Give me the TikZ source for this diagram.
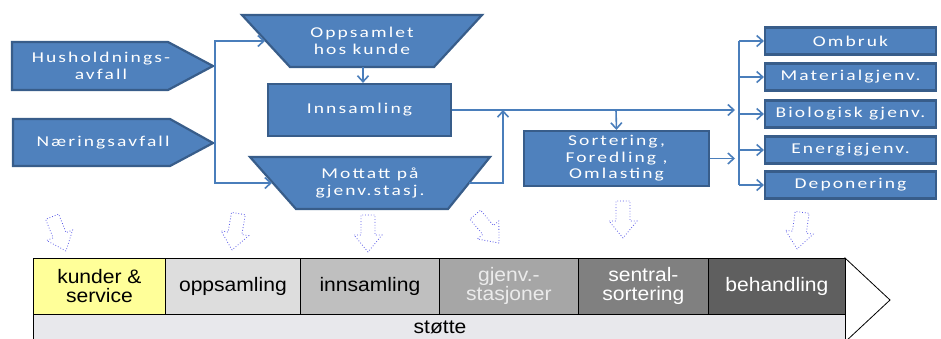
\documentclass[tikz,border=0pt]{standalone}
\usepackage{fontspec}
\usetikzlibrary{arrows.meta}
\newfontfamily\topfont[FakeStretch=1.3,LetterSpace=14]{Carlito}
\newfontfamily\barfont[FakeStretch=1.08]{Liberation Sans}
\definecolor{bfill}{HTML}{4F81BD}
\definecolor{bdraw}{HTML}{385D8A}
\definecolor{lineblue}{HTML}{4A7EBB}
\definecolor{dotblue}{HTML}{5A5AE8}
\definecolor{segA}{HTML}{FFFF99}
\definecolor{segB}{HTML}{DDDDDD}
\definecolor{segC}{HTML}{BFBFBF}
\definecolor{segD}{HTML}{A6A6A6}
\definecolor{segE}{HTML}{808080}
\definecolor{segF}{HTML}{5F5F5F}
\definecolor{segG}{HTML}{E8E8EC}
\newcommand{\dotarrow}[3]{\draw[dotarr,shift={(#1,#2)},rotate=#3] (0,0) -- (-14,-17) -- (-7,-17) -- (-7,-37) -- (7,-37) -- (7,-17) -- (14,-17) -- cycle;}
\begin{document}
\begin{tikzpicture}[x=1pt,y=-1pt,
  blueshape/.style={fill=bfill,draw=bdraw,line width=2.2pt,line join=miter},
  bluebox/.style={blueshape,rectangle,inner sep=0pt,text=white,font=\topfont\fontsize{15}{16.5}\selectfont,align=center},
  ttext/.style={text=white,font=\topfont\fontsize{15}{16.5}\selectfont,align=center,inner sep=0pt},
  conn/.style={draw=lineblue,line width=1.6pt},
  arr/.style={-{Straight Barb[length=6pt,width=11pt,line width=1.6pt]}},
  arrboth/.style={{Straight Barb[length=6pt,width=11pt,line width=1.6pt]}-{Straight Barb[length=6pt,width=11pt,line width=1.6pt]}},
  seg/.style={draw=black,line width=0.8pt,rectangle,inner sep=0pt,minimum height=56pt,font=\barfont\fontsize{19.5}{19}\selectfont,align=center},
  dotarr/.style={draw=dotblue,dotted,line width=0.8pt,fill=white}]
\useasboundingbox (0,0) rectangle (941,338);
\clip (0,0) rectangle (941,338);

% input pentagons
\path[blueshape] (12,42) -- (168,42) -- (213,66) -- (168,90) -- (12,90) -- cycle;
\node[ttext] (hus) at (101,66) {Husholdnings-\\avfall};
\path[blueshape] (13,119) -- (170,119) -- (213,143) -- (170,166) -- (13,166) -- cycle;
\node[ttext] (naer) at (103,143) {Næringsavfall};

% trapezoids
\path[blueshape] (242,15) -- (482,15) -- (434,67) -- (290,67) -- cycle;
\node[ttext] (opp) at (362,41) {Oppsamlet\\hos kunde};
\path[blueshape] (250,157) -- (490,157) -- (448,209) -- (296,209) -- cycle;
\node[ttext] (mot) at (370,183) {Mottatt på\\gjenv.stasj.};

% boxes
\node[bluebox,minimum width=183pt,minimum height=52pt] (inn) at (359.5,110) {Innsamling};
\node[bluebox,minimum width=185pt,minimum height=55pt] (sort) at (616.5,158.5) {Sortering,\\Foredling ,\\Omlasting};
\node[bluebox,minimum width=171pt,minimum height=27pt] (r1) at (850.5,41) {Ombruk};
\node[bluebox,minimum width=171pt,minimum height=27pt] (r2) at (850.5,77) {Materialgjenv.};
\node[bluebox,minimum width=171pt,minimum height=27pt] (r3) at (850.5,114) {Biologisk gjenv.};
\node[bluebox,minimum width=171pt,minimum height=27pt] (r4) at (850.5,150) {Energigjenv.};
\node[bluebox,minimum width=171pt,minimum height=27pt] (r5) at (850.5,185) {Deponering};

% coordinates
\coordinate (oppL) at (265,41);
\coordinate (brTop) at (215,41);
\coordinate (brBot) at (215,183);
\coordinate (motL) at (272,183);
\coordinate (oppB) at (363,67);
\coordinate (motR) at (469,183);
\coordinate (j1) at (503,110);
\coordinate (j2) at (616,110);
\coordinate (rbIn1) at (735,110);
\coordinate (rbIn2) at (735,158.5);
\coordinate (rbTop) at (739,41);
\coordinate (rbBot) at (739,185);

% connectors
\draw[conn,arrboth] (oppL) -- (brTop) -- (brBot) -- (motL);
\draw[conn,arr] (oppB) -- (oppB |- inn.north);
\draw[conn,arr] (inn.east) -- (rbIn1);
\draw[conn,arr] (motR) -| (j1);
\draw[conn,arr] (j2) -- (sort.north);
\draw[conn,arr] (sort.east) -- (rbIn2);
\draw[conn] (rbTop) -- (rbBot);
\foreach \b in {r1,r2,r3,r4,r5}{
  \draw[conn,arr] (rbTop |- \b.west) -- (\b.west);
}

% bottom bar
\path[draw=black,line width=0.8pt,fill=white] (845,258) -- (890,300) -- (845,342) -- cycle;
\node[seg,fill=segG,minimum width=812pt,minimum height=30pt,anchor=north west] (stotte) at (33,314) {};
\node[font=\barfont\fontsize{19.5}{19}\selectfont,inner sep=0pt] (stt) at (440,327) {støtte};
\node[seg,fill=segA,minimum width=132pt,anchor=north west] (s1) at (33,258) {kunder \&\\service};
\node[seg,fill=segB,minimum width=135pt,anchor=north west] (s2) at (165,258) {oppsamling};
\node[seg,fill=segC,minimum width=139pt,anchor=north west] (s3) at (300,258) {innsamling};
\node[seg,fill=segD,minimum width=139pt,anchor=north west,text=white!92!black] (s4) at (439,258) {gjenv.-\\stasjoner};
\node[seg,fill=segE,minimum width=130pt,anchor=north west,text=white] (s5) at (578,258) {sentral-\\sortering};
\node[seg,fill=segF,minimum width=137pt,anchor=north west,text=white] (s6) at (708,258) {behandling};

% dotted block arrows
\dotarrow{66}{251}{22}
\dotarrow{232}{250}{-10}
\dotarrow{368}{252}{0}
\dotarrow{499}{243}{40}
\dotarrow{623}{238}{0}
\dotarrow{797}{249}{-8}
\end{tikzpicture}
\end{document}
